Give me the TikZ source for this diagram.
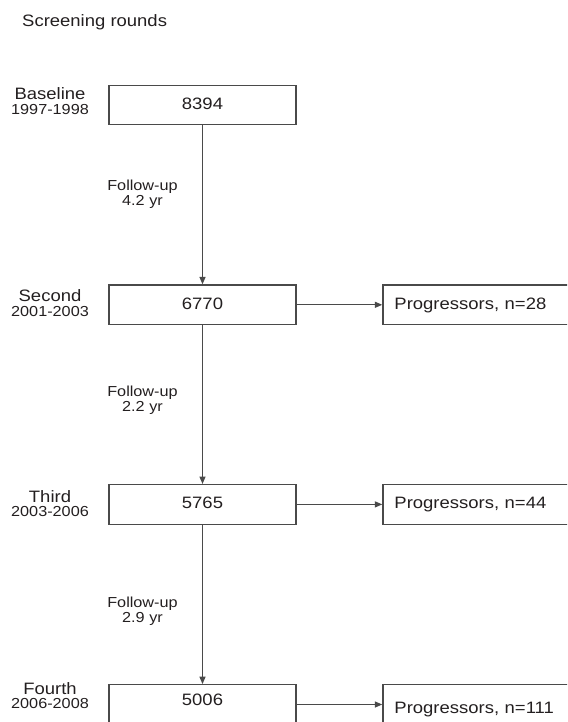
\documentclass[tikz,border=0pt]{standalone}
\usepackage{fontspec}
\setmainfont{Liberation Sans}[FakeStretch=1.12]
\usepackage{tikz}
\usetikzlibrary{arrows.meta}
\definecolor{linegray}{HTML}{4A4A4A}
\definecolor{inkblack}{HTML}{231F20}
\newcommand{\bigsz}{\fontsize{16.5}{14.3}\selectfont}
\newcommand{\smlsz}{\fontsize{14.5}{15.3}\selectfont}
\tikzset{
rndbox/.style={draw=linegray, line width=1.3pt, minimum width=187pt,
  minimum height=39.5pt, inner sep=0pt, text height=12pt, text depth=3.5pt,
  font=\bigsz, text=inkblack},
progbox/.style={rndbox, anchor=west, text width=196pt, inner xsep=11.5pt,
  align=left},
rndlbl/.style={align=center, inner sep=0pt, font=\bigsz, text=inkblack},
fuplbl/.style={align=center, inner sep=0pt, font=\smlsz, text=inkblack},
flow/.style={draw=linegray, line width=1.3pt,
  -{Triangle[length=7.5pt,width=6pt]}},
}

\begin{document}
\begin{tikzpicture}[x=1pt, y=-1pt]
\useasboundingbox (0,0) rectangle (567,722);
\clip (0,0) rectangle (567,722);

\node[anchor=base west, inner sep=0pt, font=\bigsz, text=inkblack]
(title) at (22,26.7) {Screening rounds};

\node[rndbox] (base) at (202.5,105) {8394};
\node[rndbox] (second) at (202.5,304.8) {6770};
\node[rndbox] (third) at (202.5,504.4) {5765};
\node[rndbox, text depth=10.2pt] (fourth) at (202.5,704.5) {5006};

\node[progbox] (prog2) at (382.3,304.8) {Progressors, n=28};
\node[progbox] (prog3) at (382.3,504.4) {Progressors, n=44};
\node[progbox, text height=22.3pt] (prog4) at (382.3,704.5) {Progressors, n=111};

\node[rndlbl] (baselbl) at (50,101) {Baseline\\{\smlsz 1997-1998}};
\node[rndlbl] (secondlbl) at (50,303) {Second\\{\smlsz 2001-2003}};
\node[rndlbl] (thirdlbl) at (50,503.5) {Third\\{\smlsz 2003-2006}};
\node[rndlbl] (fourthlbl) at (50,695.5) {Fourth\\{\smlsz 2006-2008}};

\node[fuplbl] (fup1) at (142.5,194.5) {Follow-up\\4.2 yr};
\node[fuplbl] (fup2) at (142.5,400) {Follow-up\\2.2 yr};
\node[fuplbl] (fup3) at (142.5,611) {Follow-up\\2.9 yr};

\draw[flow] (base) -- (second);
\draw[flow] (second) -- (third);
\draw[flow] (third) -- (fourth);
\draw[flow] (second) -- (prog2);
\draw[flow] (third) -- (prog3);
\draw[flow] (fourth) -- (prog4);
\end{tikzpicture}
\end{document}
